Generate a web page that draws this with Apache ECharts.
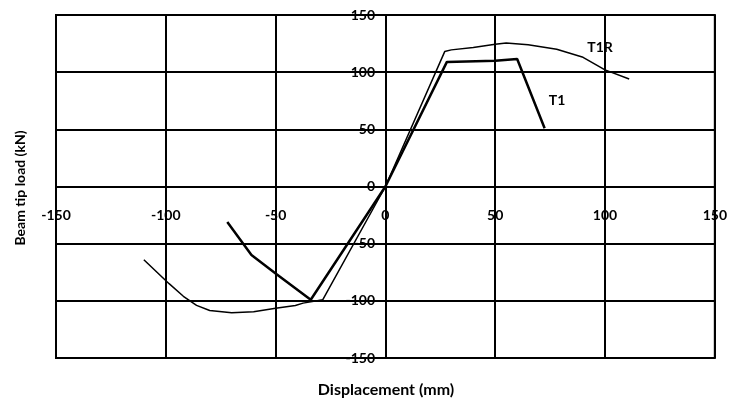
<!DOCTYPE html>
<html>
<head>
<meta charset="utf-8">
<script src="https://cdn.jsdelivr.net/npm/echarts@6/dist/echarts.min.js"></script>
<style>html,body{margin:0;padding:0;background:#fff}#c{width:730px;height:403px}</style>
</head>
<body>
<div id="c"></div>
<script>
// Data
var xTicks = [-150, -100, -50, 0, 50, 100, 150];
var yTicks = [-150, -100, -50, 0, 50, 100, 150];
var t1X = [-72, -61, -50, -34, 0, 28, 50, 60, 72.5];
var t1Y = [-31, -60, -76, -99, 0, 109, 110, 111.5, 51];
var t1rX = [-110, -98.5, -92, -86, -80, -70, -60, -50, -41, -37.5, -28.5, 0, 27, 30, 40, 50, 55, 65, 78, 90, 100, 111];
var t1rY = [-64, -85, -96, -104, -108.5, -110.5, -109.5, -106.5, -104, -102, -99, 0, 118, 119.5, 121.5, 124.5, 125.5, 124, 120, 113, 102, 94];
var seriesNames = ['T1', 'T1R'];
var xTitle = 'Displacement (mm)';
var yTitle = 'Beam tip load (kN)';

function pairs(xs, ys) { return xs.map(function (x, i) { return [x, ys[i]]; }); }

var font = 'Lato, "Open Sans", sans-serif';
var gridL = 56, gridR = 10, gridT = 15, gridB = 45;
var W = 730, H = 403;
var plotW = W - gridL - gridR, plotH = H - gridT - gridB;
var chart = echarts.init(document.getElementById('c'), null, {renderer: 'canvas'});
chart.setOption({
  animation: false,
  backgroundColor: '#fff',
  grid: {left: gridL, right: gridR, top: gridT, bottom: gridB, show: true, borderColor: '#000', borderWidth: 2},
  xAxis: {
    type: 'value', min: xTicks[0], max: xTicks[xTicks.length - 1], interval: 50,
    position: 'bottom', offset: -plotH / 2,
    axisLine: {show: false},
    axisTick: {show: false},
    axisLabel: {color: '#000', fontFamily: font, fontWeight: 'bold', fontSize: 14, margin: 22, showMinLabel: true, showMaxLabel: true},
    splitLine: {show: true, lineStyle: {color: '#000', width: 2}}
  },
  yAxis: {
    type: 'value', min: yTicks[0], max: yTicks[yTicks.length - 1], interval: 50,
    position: 'left', offset: -plotW / 2,
    axisLine: {show: false},
    axisTick: {show: false},
    axisLabel: {color: '#000', fontFamily: font, fontWeight: 'bold', fontSize: 14, margin: 13},
    splitLine: {show: true, lineStyle: {color: '#000', width: 2}}
  },
  series: [
    {name: seriesNames[0], type: 'line', data: pairs(t1X, t1Y), showSymbol: false, symbol: 'none',
     lineStyle: {color: '#000', width: 2.5}},
    {name: seriesNames[1], type: 'line', data: pairs(t1rX, t1rY), showSymbol: false, symbol: 'none',
     lineStyle: {color: '#000', width: 1.5}}
  ],
  graphic: [
    {type: 'text', x: 386, y: 390, style: {text: xTitle, font: 'bold 16px ' + font, fill: '#000', align: 'center', verticalAlign: 'middle'}},
    {type: 'text', x: 20, y: 188, rotation: Math.PI / 2, style: {text: yTitle, font: 'bold 14px ' + font, fill: '#000', align: 'center', verticalAlign: 'middle'}},
    {type: 'text', x: 600, y: 47, style: {text: seriesNames[1], font: 'bold 14px ' + font, fill: '#000', align: 'center', verticalAlign: 'middle'}},
    {type: 'text', x: 557, y: 100, style: {text: seriesNames[0], font: 'bold 14px ' + font, fill: '#000', align: 'center', verticalAlign: 'middle'}}
  ]
});
</script>
</body>
</html>
